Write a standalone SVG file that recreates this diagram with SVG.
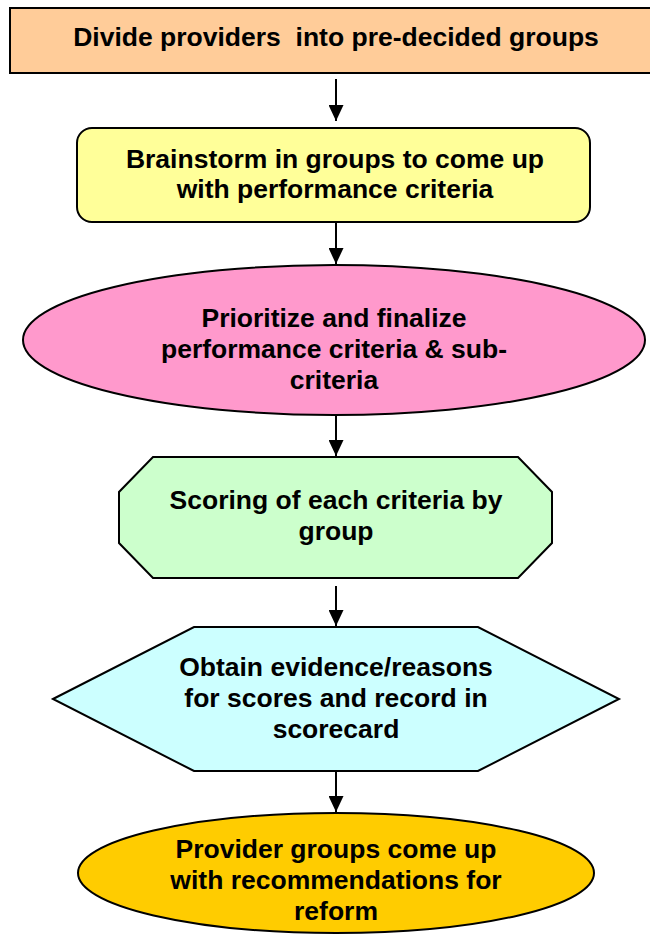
<svg xmlns="http://www.w3.org/2000/svg" width="650" height="934" viewBox="0 0 650 934">
  <defs>
    <marker id="arrow" viewBox="0 0 16 15" refX="16" refY="7.5" markerWidth="16" markerHeight="15" markerUnits="userSpaceOnUse" orient="auto">
      <path d="M0,0 L16,7.5 L0,15 Z" fill="#000"/>
    </marker>
  </defs>
  <style>
    .shape { stroke: #000; stroke-width: 2; }
    .label { font-family: "Liberation Sans", Arial, sans-serif; font-weight: bold; font-size: 26.5px; fill: #000; text-anchor: middle; white-space: pre; }
    .link { stroke: #000; stroke-width: 2; fill: none; marker-end: url(#arrow); }
  </style>
  <rect width="650" height="934" fill="#fff"/>

  <g id="step-divide">
    <rect class="shape" x="10" y="8" width="660" height="65" fill="#FFCC99"/>
    <text class="label" x="336" y="46" xml:space="preserve">Divide providers  into pre-decided groups</text>
  </g>

  <g id="step-brainstorm">
    <rect class="shape" x="77" y="128" width="513" height="94" rx="15" ry="15" fill="#FFFF99"/>
    <text class="label" x="335" y="168">Brainstorm in groups to come up</text>
    <text class="label" x="335" y="198">with performance criteria</text>
  </g>

  <g id="step-prioritize">
    <ellipse class="shape" cx="334" cy="340" rx="311" ry="75" fill="#FF99CC"/>
    <text class="label" x="334" y="327">Prioritize and finalize</text>
    <text class="label" x="334" y="358">performance criteria &amp; sub-</text>
    <text class="label" x="334" y="389">criteria</text>
  </g>

  <g id="step-scoring">
    <polygon class="shape" points="153,457 518,457 552,492 552,543 518,578 153,578 119,543 119,492" fill="#CCFFCC"/>
    <text class="label" x="336" y="509">Scoring of each criteria by</text>
    <text class="label" x="336" y="540">group</text>
  </g>

  <g id="step-evidence">
    <polygon class="shape" points="53,699 194,627 478,627 619,699 478,771 194,771" fill="#CCFFFF"/>
    <text class="label" x="336" y="676">Obtain evidence/reasons</text>
    <text class="label" x="336" y="707">for scores and record in</text>
    <text class="label" x="336" y="738">scorecard</text>
  </g>

  <g id="step-recommend">
    <ellipse class="shape" cx="336" cy="873" rx="258" ry="60" fill="#FFCC00"/>
    <text class="label" x="336" y="858">Provider groups come up</text>
    <text class="label" x="336" y="889">with recommendations for</text>
    <text class="label" x="336" y="920">reform</text>
  </g>

  <g id="connectors">
    <line class="link" x1="336" y1="79" x2="336" y2="121"/>
    <line class="link" x1="336" y1="222" x2="336" y2="264"/>
    <line class="link" x1="336" y1="416" x2="336" y2="456"/>
    <line class="link" x1="336" y1="586" x2="336" y2="626"/>
    <line class="link" x1="336" y1="771" x2="336" y2="812"/>
  </g>
</svg>
